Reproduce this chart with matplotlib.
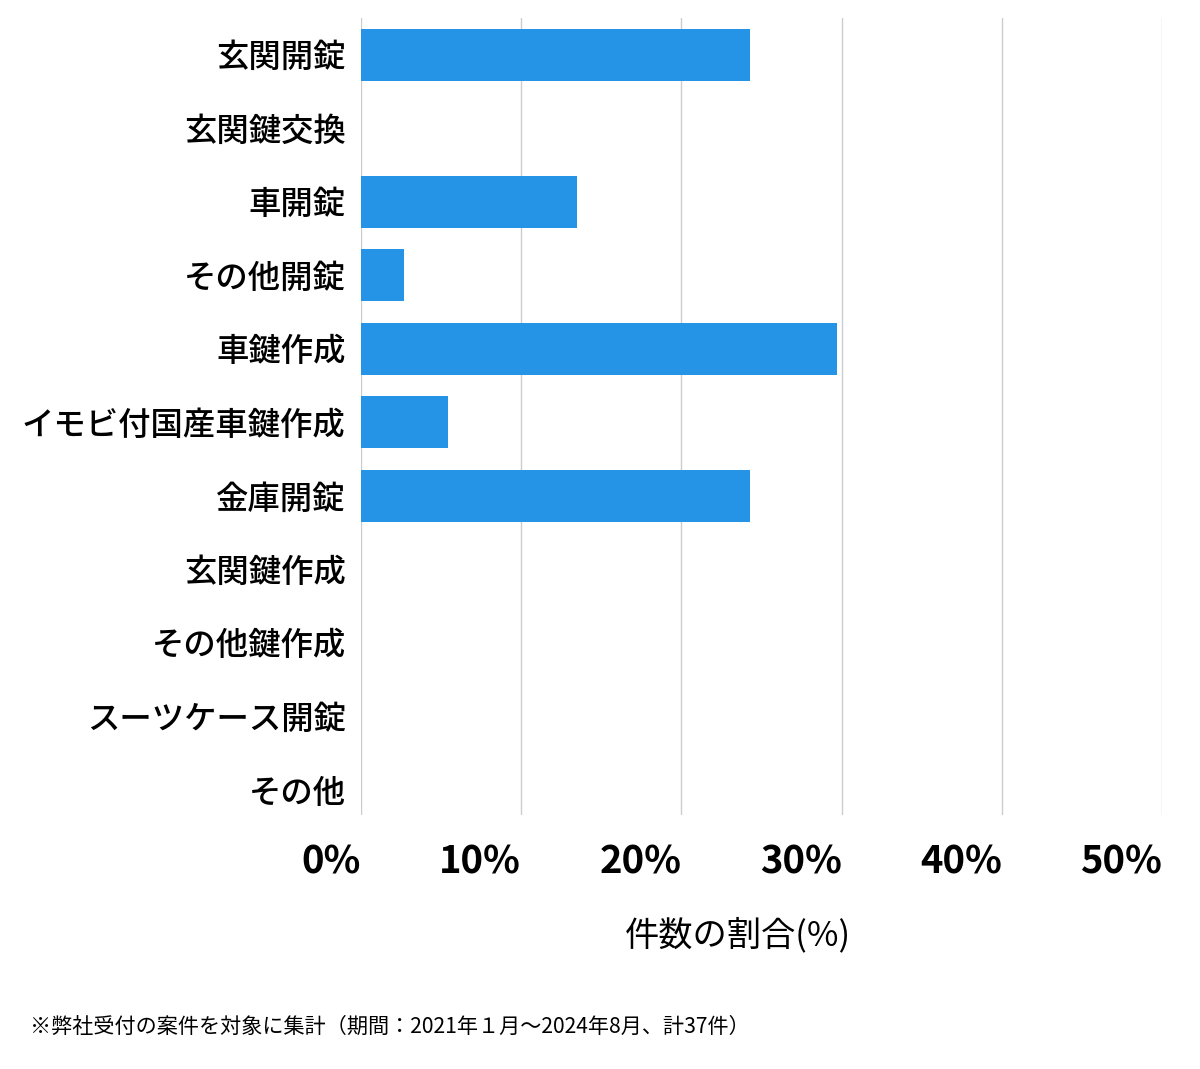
import matplotlib
matplotlib.use("Agg")
import matplotlib.pyplot as plt
import matplotlib.transforms as mtransforms
import numpy as np

plt.rcParams['font.family'] = ['Noto Sans CJK JP', 'DejaVu Sans']

# 件数の割合 (計37件)
categories = ['玄関開錠', '玄関鍵交換', '車開錠', 'その他開錠', '車鍵作成',
              'イモビ付国産車鍵作成', '金庫開錠', '玄関鍵作成', 'その他鍵作成',
              'スーツケース開錠', 'その他']
values = [24.3, 0, 13.5, 2.7, 29.7, 5.4, 24.3, 0, 0, 0, 0]
xticks = [0, 10, 20, 30, 40, 50]
xtick_labels = ['0%', '10%', '20%', '30%', '40%', '50%']

W, H = 1200, 1069
fig = plt.figure(figsize=(W / 100, H / 100), dpi=100)
ax = fig.add_axes([361 / W, 1 - 815 / H, (1162 - 361) / W, (815 - 18) / H])

y = np.arange(len(categories))
ax.barh(y, values, height=0.71, color='#2694E6', zorder=3)

ax.set_xlim(0, 50)
ax.set_ylim(10.34, -0.5)
ax.set_xticks(xticks)
ax.set_xticklabels(xtick_labels, fontsize=27.5, fontweight='bold', ha='right')
ax.set_yticks(y)
ax.set_yticklabels(categories, fontsize=23.3, fontweight='medium')
# labels sit a few px lower than the bar centres in the original
shift = mtransforms.ScaledTranslation(0, -4 / 100, fig.dpi_scale_trans)
for lab in ax.get_yticklabels():
    lab.set_transform(lab.get_transform() + shift)
ax.tick_params(axis='x', length=0, pad=20)
ax.tick_params(axis='y', length=0, pad=11)
ax.grid(axis='x', color='#cccccc', linewidth=1, zorder=0)
for s in ax.spines.values():
    s.set_visible(False)

fig.text(738 / W, 1 - 935 / H, '件数の割合(%)', fontsize=24.7, ha='center', va='center')
fig.text(30 / W, 1 - 1027 / H, '※弊社受付の案件を対象に集計（期間：2021年１月～2024年8月、計37件）',
         fontsize=15.2, ha='left', va='center')

fig.savefig('out.png', dpi=100)
